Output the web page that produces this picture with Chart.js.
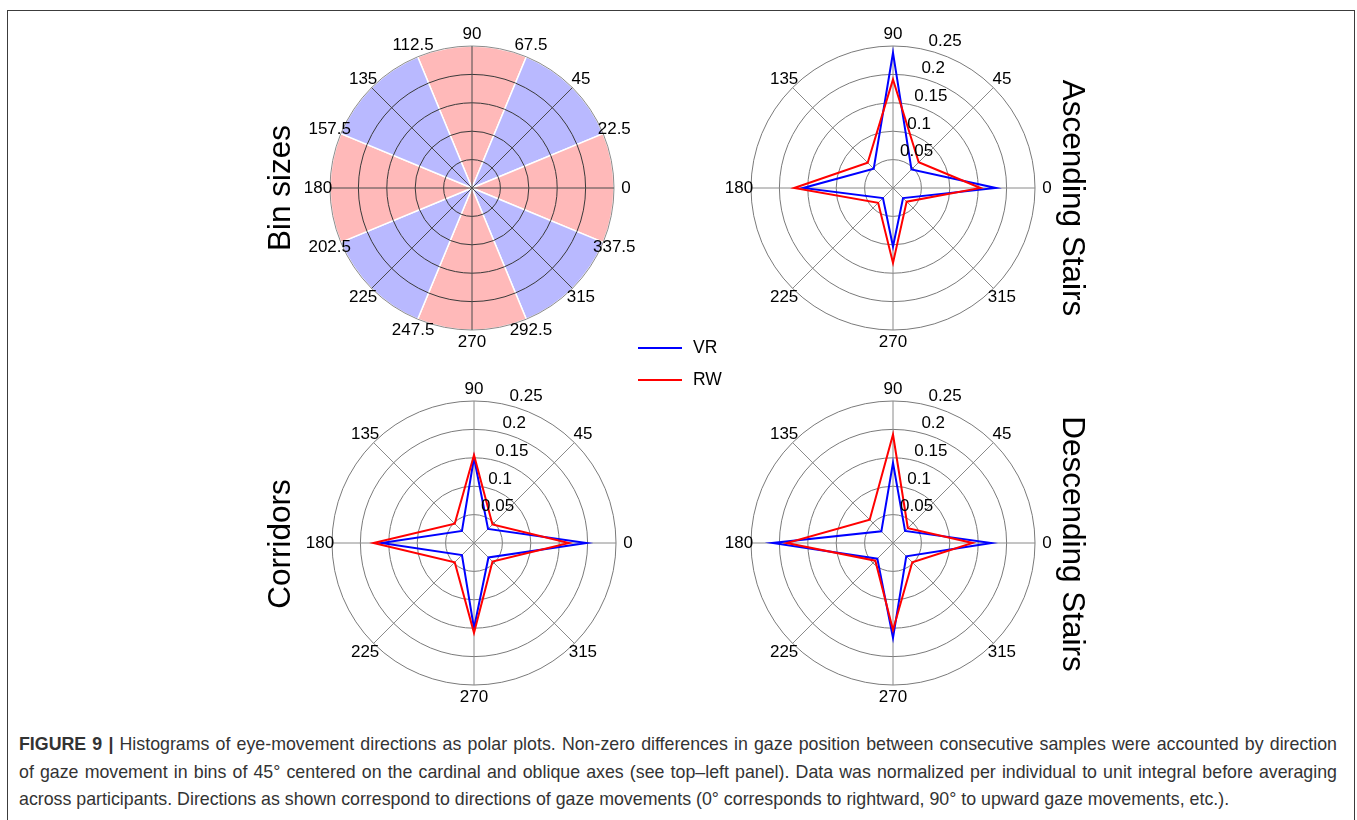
<!DOCTYPE html>
<html>
<head>
<meta charset="utf-8">
<script src="https://cdn.jsdelivr.net/npm/chart.js@4.4.1/dist/chart.umd.min.js"></script>
<style>
  html, body { margin: 0; padding: 0; background: #fff; }
  body { width: 1357px; height: 820px; position: relative; overflow: hidden; font-family: "Liberation Sans", Arial, sans-serif; }
  .frame { position: absolute; left: 7px; top: 10px; width: 1346px; height: 840px; border: 1.5px solid #3c3c3c; }
  canvas { position: absolute; }
  .title { position: absolute; font-size: 31.5px; line-height: 1; white-space: nowrap; color: #000; }
  .legend { position: absolute; left: 638px; top: 336px; font-size: 17.5px; line-height: 1; z-index: 5; }
  .legend div { display: flex; align-items: center; height: 24px; margin-bottom: 8px; }
  .legend span.swatch { display: inline-block; width: 44px; height: 2.5px; margin-right: 11px; }
  .caption { position: absolute; left: 19px; width: 1318px; font-size: 17.8px; line-height: 1; color: #333; white-space: nowrap; }
  .caption.full { text-align: justify; text-align-last: justify; }
</style>
</head>
<body>
<div class="frame"></div>

<canvas id="binChart" width="370" height="370"></canvas>
<canvas id="ascChart" width="370" height="370"></canvas>
<canvas id="corChart" width="370" height="370"></canvas>
<canvas id="descChart" width="370" height="370"></canvas>

<div class="title" style="left:280px; top:188px; transform: translate(-50%,-50%) rotate(-90deg);">Bin sizes</div>
<div class="title" style="left:1073px; top:198px; transform: translate(-50%,-50%) rotate(90deg);">Ascending Stairs</div>
<div class="title" style="left:280px; top:544px; transform: translate(-50%,-50%) rotate(-90deg);">Corridors</div>
<div class="title" style="left:1073px; top:544px; transform: translate(-50%,-50%) rotate(90deg);">Descending Stairs</div>

<div class="legend">
  <div><span class="swatch" style="background:#0000ff"></span>VR</div>
  <div><span class="swatch" style="background:#ff0000"></span>RW</div>
</div>

<div class="caption full" style="top:736px;"><b>FIGURE 9 |</b> Histograms of eye-movement directions as polar plots. Non-zero differences in gaze position between consecutive samples were accounted by direction</div>
<div class="caption full" style="top:764px;">of gaze movement in bins of 45° centered on the cardinal and oblique axes (see top–left panel). Data was normalized per individual to unit integral before averaging</div>
<div class="caption" style="top:791px;">across participants. Directions as shown correspond to directions of gaze movements (0° corresponds to rightward, 90° to upward gaze movements, etc.).</div>

<script>
// directions, listed clockwise from the top (the way the radial scale walks)
const directions = ['90', '45', '0', '315', '270', '225', '180', '135'];
const radialTicks = [0.05, 0.1, 0.15, 0.2, 0.25];

// bin-size panel: 16 boundary/centre labels, 8 bins of 45 deg
const binLabels = ['112.5', '90', '67.5', '45', '22.5', '0', '337.5', '315', '292.5', '270', '247.5', '225', '202.5', '180', '157.5', '135'];
const binCentres = ['90', '45', '0', '315', '270', '225', '180', '135'];
const binRadius = [0.25, 0.25, 0.25, 0.25, 0.25, 0.25, 0.25, 0.25];

// histogram values, same order as directions
const ascVR = [0.238, 0.046, 0.181, 0.025, 0.103, 0.025, 0.158, 0.048];
const ascRW = [0.191, 0.064, 0.154, 0.034, 0.132, 0.037, 0.174, 0.063];
const corVR = [0.150, 0.035, 0.198, 0.036, 0.150, 0.030, 0.163, 0.030];
const corRW = [0.155, 0.046, 0.167, 0.046, 0.158, 0.048, 0.177, 0.048];
const descVR = [0.141, 0.030, 0.173, 0.033, 0.167, 0.039, 0.212, 0.029];
const descRW = [0.191, 0.037, 0.140, 0.048, 0.153, 0.044, 0.187, 0.058];

const FONT = '17px "Liberation Sans", Arial, sans-serif';
const HALF = 185; // half canvas size

function place(id, cx, cy) {
    const el = document.getElementById(id);
    el.style.left = (cx - HALF) + 'px';
    el.style.top = (cy - HALF) + 'px';
    return el.getContext('2d');
}

// draws direction labels centred just outside the rim, plus optional radius labels
function outerLabels(tickValues) {
    return {
        id: 'outerLabels',
        afterDraw(chart) {
            const scale = chart.scales.r;
            const ctx = chart.ctx;
            ctx.save();
            ctx.font = FONT;
            ctx.fillStyle = '#000';
            ctx.textAlign = 'center';
            ctx.textBaseline = 'middle';
            chart.data.labels.forEach((lab, i) => {
                const p = scale.getPointPosition(i, scale.drawingArea + 12);
                ctx.fillText(lab, p.x, p.y);
            });
            ctx.textAlign = 'left';
            tickValues.forEach(v => {
                const d = scale.getDistanceFromCenterForValue(v);
                ctx.fillText(String(v), scale.xCenter + 0.25 * d, scale.yCenter - 0.97 * d - 9);
            });
            ctx.restore();
        }
    };
}

function radarPanel(ctx, vr, rw) {
    return new Chart(ctx, {
        type: 'radar',
        data: {
            labels: directions,
            datasets: [
                { label: 'VR', data: vr, borderColor: '#0000ff', fill: false, order: 1 },
                { label: 'RW', data: rw, borderColor: '#ff0000', fill: false, order: 0 }
            ]
        },
        options: {
            responsive: false,
            animation: false,
            layout: { padding: 43 },
            elements: {
                point: { radius: 0, hoverRadius: 0 },
                line: { borderWidth: 2, tension: 0, borderJoinStyle: 'miter' }
            },
            plugins: { legend: { display: false }, tooltip: { enabled: false } },
            scales: {
                r: {
                    min: 0, max: 0.25,
                    startAngle: 0,
                    ticks: { stepSize: 0.05, display: false },
                    pointLabels: { display: false },
                    grid: { circular: true, color: '#7a7a7a', lineWidth: 1 },
                    angleLines: { color: '#8a8a8a', lineWidth: 1 }
                }
            }
        },
        plugins: [outerLabels(radialTicks)]
    });
}

// top-left: bin sizes as a polar area chart, grid drawn on top
new Chart(place('binChart', 472, 188), {
    type: 'polarArea',
    data: {
        labels: binLabels,
        datasets: [{
            label: 'bins',
            data: binRadius,
            backgroundColor: binCentres.map((c, i) => i % 2 === 0 ? '#ffb9b9' : '#b9b9ff'),
            borderColor: '#ffffff',
            borderWidth: 1.5
        }]
    },
    options: {
        responsive: false,
        animation: false,
        layout: { padding: 43 },
        plugins: { legend: { display: false }, tooltip: { enabled: false } },
        scales: {
            r: {
                min: 0, max: 0.25,
                startAngle: -22.5,
                ticks: { stepSize: 0.05, display: false },
                pointLabels: { display: false },
                grid: {
                    z: 1, circular: true, lineWidth: 1,
                    color: c => c.index === radialTicks.length ? '#8c8c8c' : '#3a3a3a'
                },
                angleLines: {
                    display: true, lineWidth: 1,
                    color: c => c.index % 2 === 1 ? '#4a4a4a' : 'rgba(0,0,0,0)'
                }
            }
        }
    },
    plugins: [outerLabels([])]
});

radarPanel(place('ascChart', 893, 188), ascVR, ascRW);
radarPanel(place('corChart', 474, 543), corVR, corRW);
radarPanel(place('descChart', 893, 543), descVR, descRW);
</script>
</body>
</html>
